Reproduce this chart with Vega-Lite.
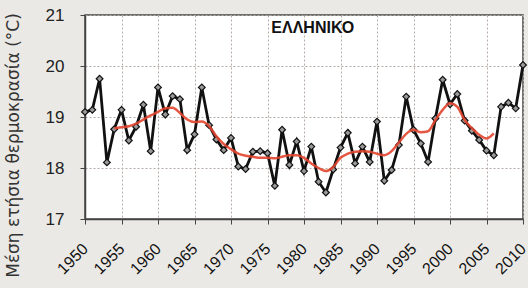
{
  "$schema": "https://vega.github.io/schema/vega-lite/v6.json",
  "width": 438,
  "height": 204,
  "autosize": {"type": "none"},
  "padding": {"left": 85, "top": 15, "right": 5, "bottom": 69},
  "background": "#ebe9e5",
  "config": {
    "view": {"fill": "white", "stroke": "#444", "strokeWidth": 1.5},
    "font": "Liberation Sans"
  },
  "datasets": {
    "obs": [
      {"year": 1950, "t": 19.10}, {"year": 1951, "t": 19.14}, {"year": 1952, "t": 19.75}, {"year": 1953, "t": 18.11},
      {"year": 1954, "t": 18.76}, {"year": 1955, "t": 19.14}, {"year": 1956, "t": 18.54}, {"year": 1957, "t": 18.81},
      {"year": 1958, "t": 19.24}, {"year": 1959, "t": 18.33}, {"year": 1960, "t": 19.58}, {"year": 1961, "t": 19.05},
      {"year": 1962, "t": 19.41}, {"year": 1963, "t": 19.35}, {"year": 1964, "t": 18.35}, {"year": 1965, "t": 18.66},
      {"year": 1966, "t": 19.58}, {"year": 1967, "t": 18.84}, {"year": 1968, "t": 18.56}, {"year": 1969, "t": 18.35},
      {"year": 1970, "t": 18.59}, {"year": 1971, "t": 18.03}, {"year": 1972, "t": 17.98}, {"year": 1973, "t": 18.32},
      {"year": 1974, "t": 18.33}, {"year": 1975, "t": 18.29}, {"year": 1976, "t": 17.65}, {"year": 1977, "t": 18.75},
      {"year": 1978, "t": 18.06}, {"year": 1979, "t": 18.52}, {"year": 1980, "t": 17.94}, {"year": 1981, "t": 18.42},
      {"year": 1982, "t": 17.73}, {"year": 1983, "t": 17.52}, {"year": 1984, "t": 17.97}, {"year": 1985, "t": 18.40},
      {"year": 1986, "t": 18.69}, {"year": 1987, "t": 18.09}, {"year": 1988, "t": 18.42}, {"year": 1989, "t": 18.12},
      {"year": 1990, "t": 18.91}, {"year": 1991, "t": 17.75}, {"year": 1992, "t": 17.96}, {"year": 1993, "t": 18.45},
      {"year": 1994, "t": 19.40}, {"year": 1995, "t": 18.75}, {"year": 1996, "t": 18.48}, {"year": 1997, "t": 18.12},
      {"year": 1998, "t": 18.97}, {"year": 1999, "t": 19.73}, {"year": 2000, "t": 19.25}, {"year": 2001, "t": 19.45},
      {"year": 2002, "t": 18.93}, {"year": 2003, "t": 18.73}, {"year": 2004, "t": 18.55}, {"year": 2005, "t": 18.34},
      {"year": 2006, "t": 18.25}, {"year": 2007, "t": 19.20}, {"year": 2008, "t": 19.28}, {"year": 2009, "t": 19.17},
      {"year": 2010, "t": 20.02}
    ],
    "smooth": [
      {"year": 1954, "t": 18.78}, {"year": 1955, "t": 18.80}, {"year": 1956, "t": 18.82}, {"year": 1957, "t": 18.87},
      {"year": 1958, "t": 18.95}, {"year": 1959, "t": 19.03}, {"year": 1960, "t": 19.10}, {"year": 1961, "t": 19.17},
      {"year": 1962, "t": 19.18}, {"year": 1963, "t": 19.08}, {"year": 1964, "t": 18.95}, {"year": 1965, "t": 18.90},
      {"year": 1966, "t": 18.91}, {"year": 1967, "t": 18.82}, {"year": 1968, "t": 18.62}, {"year": 1969, "t": 18.47},
      {"year": 1970, "t": 18.37}, {"year": 1971, "t": 18.28}, {"year": 1972, "t": 18.24}, {"year": 1973, "t": 18.22},
      {"year": 1974, "t": 18.20}, {"year": 1975, "t": 18.20}, {"year": 1976, "t": 18.19}, {"year": 1977, "t": 18.22},
      {"year": 1978, "t": 18.25}, {"year": 1979, "t": 18.25}, {"year": 1980, "t": 18.20}, {"year": 1981, "t": 18.09},
      {"year": 1982, "t": 18.00}, {"year": 1983, "t": 17.94}, {"year": 1984, "t": 18.02}, {"year": 1985, "t": 18.20},
      {"year": 1986, "t": 18.28}, {"year": 1987, "t": 18.32}, {"year": 1988, "t": 18.33}, {"year": 1989, "t": 18.32},
      {"year": 1990, "t": 18.28}, {"year": 1991, "t": 18.25}, {"year": 1992, "t": 18.33}, {"year": 1993, "t": 18.50},
      {"year": 1994, "t": 18.67}, {"year": 1995, "t": 18.75}, {"year": 1996, "t": 18.70}, {"year": 1997, "t": 18.72},
      {"year": 1998, "t": 18.94}, {"year": 1999, "t": 19.14}, {"year": 2000, "t": 19.27}, {"year": 2001, "t": 19.20},
      {"year": 2002, "t": 18.94}, {"year": 2003, "t": 18.78}, {"year": 2004, "t": 18.65}, {"year": 2005, "t": 18.58},
      {"year": 2006, "t": 18.68}
    ],
    "label": [{"year": 1981.2, "t": 20.75, "name": "ΕΛΛΗΝΙΚΟ"}]
  },
  "encoding": {
    "x": {
      "field": "year", "type": "quantitative",
      "scale": {"domain": [1950, 2010], "nice": false, "zero": false},
      "axis": {
        "values": [1950, 1955, 1960, 1965, 1970, 1975, 1980, 1985, 1990, 1995, 2000, 2005, 2010],
        "format": "d", "title": null, "labelAngle": 315, "labelAlign": "right", "labelBaseline": "middle",
        "labelFontSize": 16, "labelColor": "#111", "labelPadding": 22, "labelOverlap": false, "labelFlush": false,
        "tickColor": "#444", "tickSize": 5, "domainColor": "#444", "domainWidth": 1.5,
        "grid": true, "gridColor": "#b5aca8", "gridDash": [2, 2], "gridWidth": 1
      }
    },
    "y": {
      "field": "t", "type": "quantitative",
      "scale": {"domain": [17, 21], "nice": false, "zero": false},
      "axis": {
        "values": [17, 18, 19, 20, 21], "title": "Μέση ετήσια θερμοκρασία (°C)",
        "titleFont": "DejaVu Sans", "titleFontSize": 17, "titleFontWeight": "normal", "titleColor": "#333",
        "titleY": 130, "titleX": -72, "titleAlign": "center", "titleBaseline": "middle", "titleAngle": 270,
        "labelFontSize": 17, "labelColor": "#222", "labelPadding": 16,
        "tickColor": "#444", "tickSize": 5, "domainColor": "#444", "domainWidth": 1.5,
        "grid": true, "gridColor": "#b5aca8", "gridDash": [2, 2], "gridWidth": 1
      }
    }
  },
  "layer": [
    {
      "data": {"name": "obs"},
      "mark": {"type": "line", "color": "#111", "strokeWidth": 2.8}
    },
    {
      "data": {"name": "obs"},
      "mark": {"type": "point", "shape": "diamond", "filled": true, "fill": "#9a9a9a", "stroke": "#111", "strokeWidth": 1.2, "size": 45, "opacity": 1}
    },
    {
      "data": {"name": "smooth"},
      "mark": {"type": "line", "color": "#e2452d", "strokeWidth": 2.5, "interpolate": "monotone", "opacity": 0.9}
    },
    {
      "data": {"name": "label"},
      "mark": {"type": "text", "fontWeight": "bold", "fontSize": 16, "color": "#111"},
      "encoding": {"text": {"field": "name"}}
    }
  ]
}
